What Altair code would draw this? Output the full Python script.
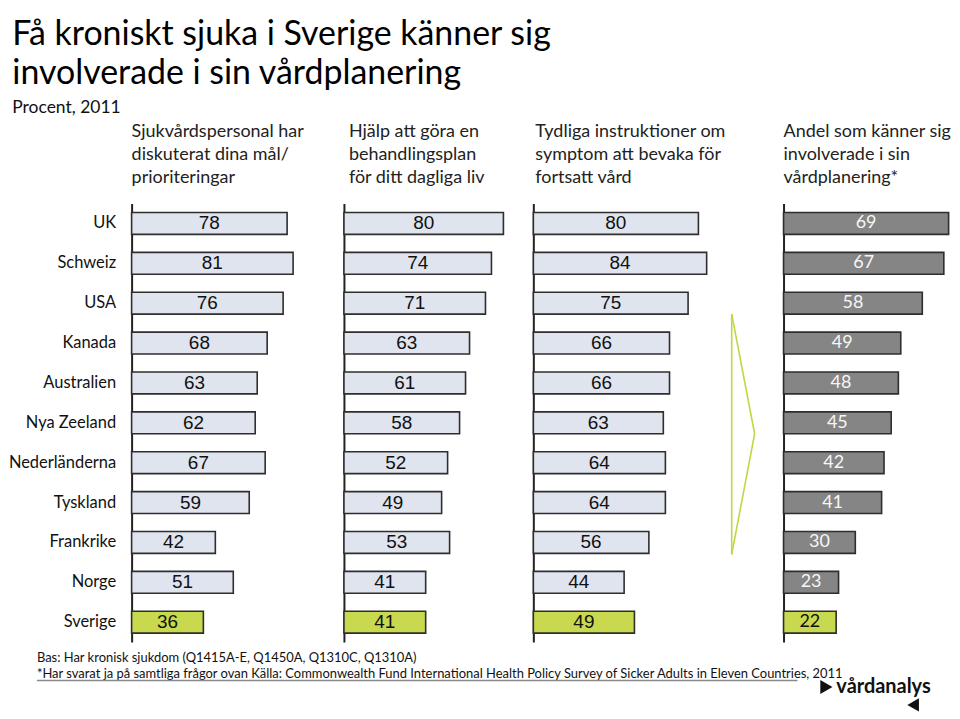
import altair as alt
import pandas as pd

countries = ["UK", "Schweiz", "USA", "Kanada", "Australien", "Nya Zeeland",
             "Nederländerna", "Tyskland", "Frankrike", "Norge", "Sverige"]
mal = [78, 81, 76, 68, 63, 62, 67, 59, 42, 51, 36]
plan = [80, 74, 71, 63, 61, 58, 52, 49, 53, 41, 41]
instr = [80, 84, 75, 66, 66, 63, 64, 64, 56, 44, 49]
andel = [69, 67, 58, 49, 48, 45, 42, 41, 30, 23, 22]

headers = [
    ["Sjukvårdspersonal har", "diskuterat dina mål/", "prioriteringar"],
    ["Hjälp att göra en", "behandlingsplan", "för ditt dagliga liv"],
    ["Tydliga instruktioner om", "symptom att bevaka för", "fortsatt vård"],
    ["Andel som känner sig", "involverade i sin", "vårdplanering*"],
]
title_lines = ["Få kroniskt sjuka i Sverige känner sig", "involverade i sin vårdplanering"]
subtitle = "Procent, 2011"
footer1 = "Bas: Har kronisk sjukdom (Q1415A-E, Q1450A, Q1310C, Q1310A)"
footer2 = "*Har svarat ja på samtliga frågor ovan Källa: Commonwealth Fund International Health Policy Survey of Sicker Adults in Eleven Countries, 2011"
logo = "vårdanalys"

LIGHT = "#dfe4ef"
GREEN = "#c8d94f"
GRAY = "#858585"
EDGE = "#2e2e2e"
FONT = "Lato"
H = 440


def panel(vals, width, dom, header, first=False, gray=False, hdx=0):
    df = pd.DataFrame({"land": countries, "v": vals,
                       "swe": ["ja" if c == "Sverige" else "nej" for c in countries]})
    yaxis = alt.Axis(title=None, ticks=False, grid=False, domainColor="#222",
                     domainWidth=2, labels=first, labelFont=FONT, labelFontSize=16.5,
                     labelColor="#111", labelPadding=16)
    base = alt.Chart(df).encode(
        y=alt.Y("land:N", sort=countries,
                scale=alt.Scale(paddingInner=0.45, paddingOuter=0.225), axis=yaxis)
    )
    xs = alt.Scale(domain=[0, dom], nice=False, zero=True)
    bars = base.mark_bar(stroke=EDGE, strokeWidth=1.6).encode(
        x=alt.X("v:Q", scale=xs, axis=None),
        color=alt.Color("swe:N", scale=alt.Scale(domain=["nej", "ja"],
                        range=[GRAY if gray else LIGHT, GREEN]), legend=None),
    )
    if gray:
        txt = base.transform_calculate(mid="datum.v/2").mark_text(
            font=FONT, fontSize=18, baseline="middle", align="center"
        ).encode(
            x=alt.X("mid:Q", scale=xs, axis=None), text="v:Q",
            color=alt.condition("datum.swe == 'ja'", alt.value("#111"),
                                alt.value("#f6f6f6")),
        )
    else:
        txt = base.transform_calculate(mid="datum.v/2").mark_text(
            font="Liberation Sans", fontSize=19, baseline="middle", align="center",
            color="#111"
        ).encode(x=alt.X("mid:Q", scale=xs, axis=None), text="v:Q")
    layers = [bars, txt]
    return layers, dict(width=width, height=H,
                        title=alt.TitleParams(text=header, anchor="start", frame="group",
                                              font=FONT, fontSize=18, fontWeight="normal",
                                              color="#222", lineHeight=23, offset=17,
                                              dx=hdx))


l1, p1 = panel(mal, 213, 106.5, headers[0], first=True)
l2, p2 = panel(plan, 190, 95, headers[1], hdx=5)
l3, p3 = panel(instr, 251, 251 / 2.07, headers[2], hdx=2)
l4, p4 = panel(andel, 166, 166 / 2.4, headers[3], gray=True)

# footer and logo (decoration, placed relative to first panel)
deco_src = pd.DataFrame({"k": [0]})
d = alt.Chart(deco_src)
f1 = d.mark_text(font=FONT, fontSize=13, align="left", baseline="alphabetic",
                 color="#111").encode(x=alt.value(-95), y=alt.value(460), text=alt.value(footer1))
f2 = d.mark_text(font=FONT, fontSize=13, align="left", baseline="alphabetic",
                 color="#111").encode(x=alt.value(-95), y=alt.value(476), text=alt.value(footer2))
ul = d.mark_rule(color="#8a8a8a", strokeWidth=1.5).encode(
    x=alt.value(-95), x2=alt.value(668), y=alt.value(478.5), y2=alt.value(478.5))
lg = d.mark_text(font=FONT, fontSize=20, fontWeight="bold", align="left",
                 baseline="alphabetic", color="#111").encode(
    x=alt.value(707), y=alt.value(491), text=alt.value(logo))
tr1 = d.mark_point(shape="triangle-right", filled=True, color="#111", size=200,
                   opacity=1).encode(x=alt.value(697), y=alt.value(485))
tr2 = d.mark_point(shape="triangle-left", filled=True, color="#111", size=180,
                   opacity=1).encode(x=alt.value(784), y=alt.value(503))

# green arrow outline (decoration in panel 3 pixel space)
AG = "#c2d645"
a1 = d.mark_rule(color=AG, strokeWidth=1.6).encode(
    x=alt.value(199), x2=alt.value(199), y=alt.value(111), y2=alt.value(352))
a2 = d.mark_rule(color=AG, strokeWidth=1.6).encode(
    x=alt.value(199), x2=alt.value(222), y=alt.value(111), y2=alt.value(231))
a3 = d.mark_rule(color=AG, strokeWidth=1.6).encode(
    x=alt.value(222), x2=alt.value(199), y=alt.value(231), y2=alt.value(352))

c1 = alt.layer(*l1, f1, f2, ul, lg, tr1, tr2).properties(**p1)
c2 = alt.layer(*l2).properties(**p2)
c3 = alt.layer(*l3, a1, a2, a3).properties(**p3)
c4 = alt.layer(*l4).properties(**p4)

chart = alt.hconcat(c1, c2, c3, c4, spacing=0, bounds="flush").resolve_scale(
    x="independent", color="independent"
).properties(
    title=alt.TitleParams(text=title_lines, subtitle=subtitle, anchor="start",
                          font=FONT, fontSize=34, fontWeight="normal", color="#000",
                          lineHeight=40, dx=4, subtitleFont=FONT, subtitleFontSize=17.5,
                          subtitleColor="#111", subtitlePadding=8, offset=6),
    padding={"left": 0, "top": 8, "right": 0, "bottom": 0},
).configure_view(stroke=None)

chart.save("out.html", embed_options={"renderer": "svg", "actions": False})
